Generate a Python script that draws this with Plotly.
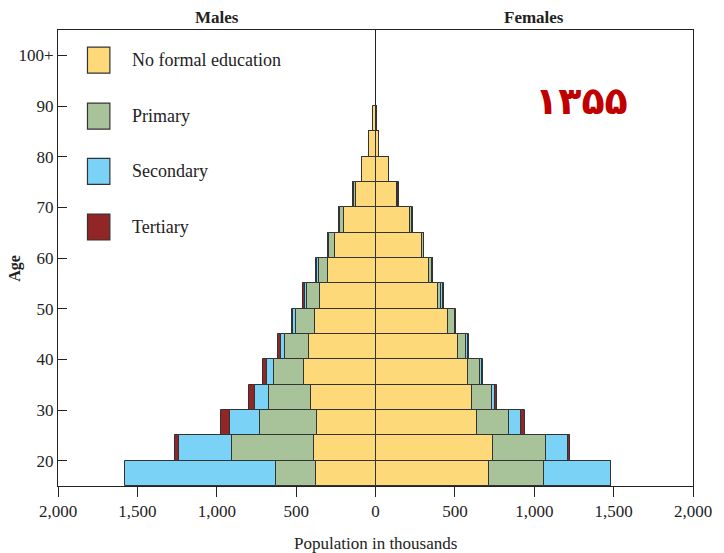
import plotly.graph_objects as go

# 5-year age groups, starting age of each group (15-19 ... 85-89)
age_start = [15, 20, 25, 30, 35, 40, 45, 50, 55, 60, 65, 70, 75, 80, 85]

# population in thousands, bottom (15-19) to top (85-89)
male_none = [373, 389, 371, 404, 448, 419, 383, 348, 300, 254, 200, 125, 83, 40, 16]
male_primary = [252, 512, 359, 269, 191, 152, 119, 83, 56, 37, 26, 12, 3, 1, 0]
male_secondary = [952, 336, 185, 83, 42, 27, 15, 13, 10, 6, 2, 2, 1, 0, 0]
male_tertiary = [0, 29, 56, 44, 29, 16, 12, 12, 7, 5, 1, 1, 0, 0, 0]

female_none = [712, 740, 642, 608, 581, 517, 456, 394, 340, 290, 219, 137, 83, 24, 9]
female_primary = [352, 331, 200, 125, 75, 56, 42, 21, 18, 17, 8, 3, 0, 0, 0]
female_secondary = [421, 142, 75, 22, 15, 8, 5, 10, 2, 0, 5, 3, 0, 0, 0]
female_tertiary = [0, 15, 25, 8, 4, 5, 3, 7, 0, 0, 5, 2, 0, 0, 0]

levels = ["No formal education", "Primary", "Secondary", "Tertiary"]
colors = ["#FDD97A", "#A8C29A", "#7AD3F7", "#922525"]

x_ticks = [-2000, -1500, -1000, -500, 0, 500, 1000, 1500, 2000]
x_labels = ["2,000", "1,500", "1,000", "500", "0", "500", "1,000", "1,500", "2,000"]
y_ticks = [20, 30, 40, 50, 60, 70, 80, 90, 100]
y_labels = ["20", "30", "40", "50", "60", "70", "80", "90", "100+"]

SERIF = "Liberation Serif, Times New Roman, serif"
y_mid = [a + 2.5 for a in age_start]

fig = go.Figure()
males = [male_none, male_primary, male_secondary, male_tertiary]
females = [female_none, female_primary, female_secondary, female_tertiary]
for name, col, mv, fv in zip(levels, colors, males, females):
    fig.add_trace(go.Bar(y=y_mid, x=[-v for v in mv], orientation="h", name=name,
                         marker=dict(color=col, line=dict(color="#333333", width=1)),
                         width=5, showlegend=False))
    fig.add_trace(go.Bar(y=y_mid, x=fv, orientation="h", name=name,
                         marker=dict(color=col, line=dict(color="#333333", width=1)),
                         width=5, showlegend=False))

# hand-drawn legend (big squares like the source figure)
centers = [0.934, 0.811, 0.690, 0.568]
for name, col, yc in zip(levels, colors, centers):
    fig.add_shape(type="rect", xref="paper", yref="paper",
                  x0=0.0464, x1=0.0817, y0=yc - 0.0285, y1=yc + 0.0285,
                  fillcolor=col, line=dict(color="#333333", width=1.2))
    fig.add_annotation(x=0.114, y=yc, xref="paper", yref="paper", text=name,
                       showarrow=False, xanchor="left", yanchor="middle",
                       font=dict(family=SERIF, size=18, color="#222222"))

fig.add_annotation(x=0.25, y=1.027, xref="paper", yref="paper", text="<b>Males</b>",
                   showarrow=False, xanchor="center", yanchor="middle",
                   font=dict(family=SERIF, size=17, color="#222222"))
fig.add_annotation(x=0.75, y=1.027, xref="paper", yref="paper", text="<b>Females</b>",
                   showarrow=False, xanchor="center", yanchor="middle",
                   font=dict(family=SERIF, size=17, color="#222222"))
fig.add_annotation(x=-0.068, y=0.478, xref="paper", yref="paper", text="<b>Age</b>",
                   textangle=-90, showarrow=False, xanchor="center", yanchor="middle",
                   font=dict(family=SERIF, size=16, color="#222222"))
fig.add_annotation(x=0.5, y=-0.125, xref="paper", yref="paper", text="Population in thousands",
                   showarrow=False, xanchor="center", yanchor="middle",
                   font=dict(family=SERIF, size=17, color="#222222"))
fig.add_annotation(x=0.90, y=0.897, xref="paper", yref="paper", text="<b>۱۳۵۵</b>",
                   showarrow=False, xanchor="right", yanchor="top",
                   font=dict(family="DejaVu Sans", size=38, color="#C00000"))

fig.update_layout(
    width=724, height=553,
    margin=dict(l=58, r=26, t=30, b=67),
    paper_bgcolor="white", plot_bgcolor="white",
    barmode="relative", bargap=0,
    font=dict(family=SERIF, size=16, color="#222222"),
    xaxis=dict(range=[-2000, 2000], tickvals=x_ticks, ticktext=x_labels,
               ticks="outside", ticklen=10, tickcolor="#222222",
               showline=True, mirror=True, linecolor="#222222", linewidth=1,
               showgrid=False, zeroline=True, zerolinecolor="#222222", zerolinewidth=1,
               tickfont=dict(family=SERIF, size=17)),
    yaxis=dict(range=[15, 105], tickvals=y_ticks, ticktext=y_labels,
               ticks="inside", ticklen=9, tickcolor="#222222",
               showline=True, mirror=True, linecolor="#222222", linewidth=1,
               showgrid=False, zeroline=False,
               tickfont=dict(family=SERIF, size=17)),
)

# drop the default 8px page margin so the 724x553 figure fills the window exactly
fig.write_html("out.html", config={"displayModeBar": False},
               post_script="document.body.style.margin='0px';document.body.style.overflow='hidden';")
